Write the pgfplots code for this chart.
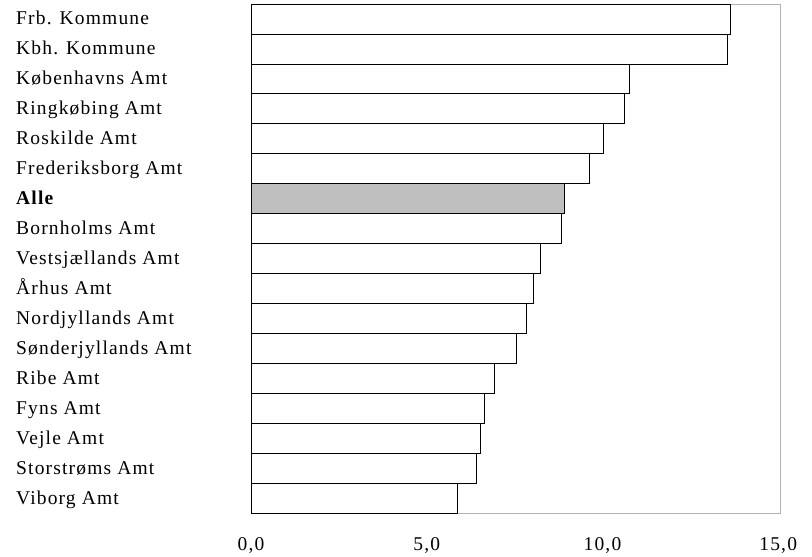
\documentclass[border=0pt]{standalone}
\usepackage{fontspec}
\setmainfont{Liberation Serif}[LetterSpace=6]
\usepackage{pgfplots}
\pgfplotsset{compat=1.18}
\begin{document}
\begin{tikzpicture}
\begin{axis}[
  scale only axis,
  width=529bp, height=509bp,
  xmin=0, xmax=15.05,
  ymin=-0.5, ymax=16.5,
  y dir=reverse,
  xbar, bar width=29.94bp, bar shift=0pt,
  xtick={0,5,10,15},
  ytick={0,...,16},
  yticklabels={Frb. Kommune, Kbh. Kommune, Københavns Amt, Ringkøbing Amt, Roskilde Amt, Frederiksborg Amt, \textbf{Alle}, Bornholms Amt, Vestsjællands Amt, Århus Amt, Nordjyllands Amt, Sønderjyllands Amt, Ribe Amt, Fyns Amt, Vejle Amt, Storstrøms Amt, Viborg Amt},
  major tick length=0pt,
  axis line style={gray!60, line width=0.6bp},
  /pgf/number format/.cd, fixed, fixed zerofill, precision=1, use comma, assume math mode=true,
  /pgfplots/.cd,
  xticklabel style={font=\fontsize{19.5bp}{21bp}\selectfont, yshift=-21bp},
  yticklabel style={font=\fontsize{19.5bp}{21bp}\selectfont, anchor=west, inner sep=0pt, text height=13bp, text depth=4bp, xshift=-235bp, yshift=-1.5bp},
]
\addplot[draw=black, line width=0.7bp, fill=white] coordinates {
(13.63,0) (13.55,1) (10.76,2) (10.62,3) (10.02,4) (9.62,5)
(8.82,7) (8.23,8) (8.03,9) (7.83,10) (7.54,11) (6.92,12) (6.63,13) (6.52,14) (6.40,15) (5.86,16)};
\addplot[draw=black, line width=0.7bp, fill=black!25] coordinates {(8.91,6)};
\end{axis}
\path[use as bounding box] ([xshift=-251bp,yshift=-44bp]current axis.south west) rectangle ++(812bp,557bp);
\end{tikzpicture}
\end{document}
